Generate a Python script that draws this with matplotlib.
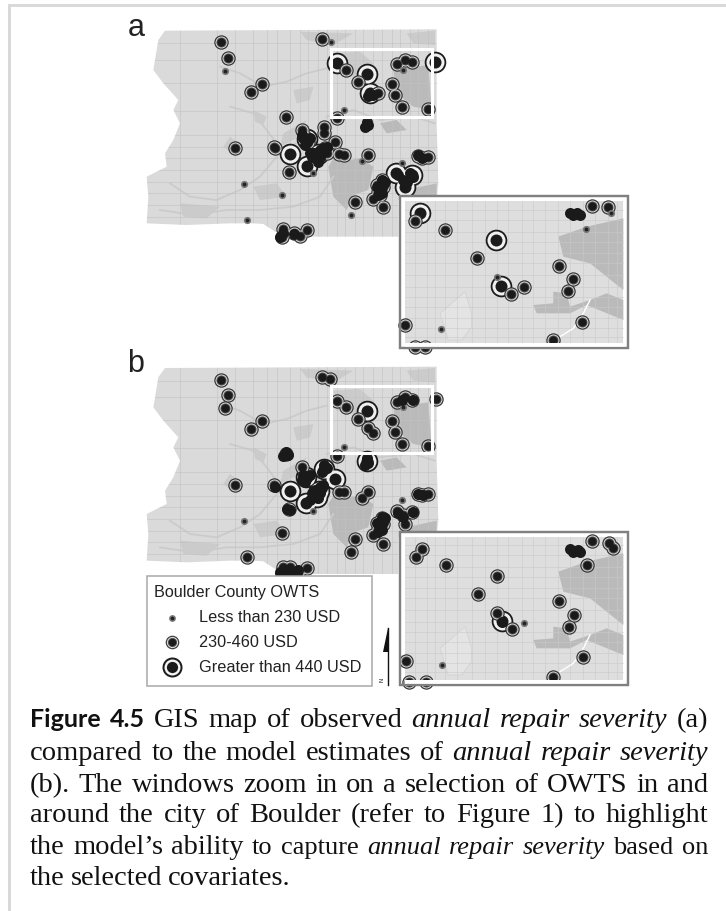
import matplotlib
matplotlib.use("Agg")
import matplotlib.pyplot as plt
from matplotlib.patches import Polygon, Rectangle

W, H = 726, 911
GREY_BG = "#dadada"
GREY_DARK = "#bababa"
GREY_SOFT = "#cbcbcb"
GREY_ROAD = "#c2c2c2"

### county base map, in crop coordinates of panel a
outline = [(135,62),(540,60),(950,58),(950,340),(955,520),(950,565),(835,570),(835,680),(580,680),(470,668),
           (430,642),(400,640),(330,640),(200,645),(80,640),(85,560),(80,500),(140,470),(135,430),(160,390),
           (180,340),(160,300),(175,270),(130,220),(100,180),(115,90)]
road_x = [180,290,345,400,440,470,510,540,565,595,620,650,675,705,730,760,785,815,840,870,895,925]
road_y = [100,150,218,302,375,410,445,480,515,550,585,620]
dark_patches = [
    [(625,470),(650,430),(690,450),(720,445),(760,470),(745,540),(700,555),(680,600),(640,560)],
    [(820,180),(925,165),(935,300),(880,290),(830,250)],
    [(780,340),(830,330),(860,360),(800,370)],
    [(860,540),(950,520),(950,560),(880,565)],
]
soft_patches = [
    [(640,130),(720,125),(760,160),(700,200),(650,190)],
    [(540,65),(700,70),(640,105),(560,90)],
    [(860,70),(945,62),(945,105),(880,100)],
    [(330,380),(350,395),(335,430),(310,410)],
    [(180,580),(300,590),(260,625),(190,620)],
    [(400,300),(440,320),(430,345),(405,335)],
    [(490,370),(560,330),(540,380),(480,410)],
    [(400,530),(470,520),(500,560),(420,570)],
    [(520,240),(580,230),(570,270),(530,280)],
]
stream_lines = [
    [(300,170),(360,190),(430,230),(500,215),(560,190),(620,175)],
    [(150,520),(210,560),(290,570),(360,540),(420,500),(470,440),(540,390)],
    [(120,600),(220,615),(320,600),(420,600),(520,590),(600,560),(640,500)],
    [(330,290),(400,310),(440,360),(470,400)],
    [(620,320),(700,300),(780,330),(880,320),(945,340)],
]

### sites of panel a: crop coordinates
a_small = [(315,182),(632,95),(848,180),(673,300),(725,452),(846,458),(372,521),(486,556),(694,616),(380,630),(580,490)]
a_mid = [(304,97),(323,144),(426,221),(394,246),(606,88),(497,321),(344,415),(463,412),(466,415),(545,360),(612,350),(612,368),
         (644,396),(656,432),(673,435),(745,435),(506,487),(705,575),(788,590),(760,566),(925,441),(895,438),(905,445),
         (678,180),(715,215),(815,222),(826,255),(845,291),(925,296),(875,155),(855,150),(832,162),(775,250),(650,325),
         (770,525),(785,510),(775,545),(790,530),(780,555),(488,657),(485,680),(522,670),(540,678),(560,660),
         (555,380),(565,395),(615,415),(620,430)]
a_large = [(650,158),(945,155),(740,192),(750,250),(511,432),(560,467),(595,432),(828,490),(875,495),(855,530),(562,388)]
a_blobs = [(575,440),(585,430),(600,420),(610,415),(590,445),(600,440),(595,455),(580,430),(620,410),(570,430),(605,430),
           (550,385),(560,395),(570,385),(545,375),(555,405),(740,335),(745,345),(735,350),(760,255),(745,258),
           (785,510),(790,525),(780,540),(775,555),(785,550),(770,530),(795,515),(835,495),(850,510),(870,490),(880,500),
           (860,515),(895,435),(905,445),(488,670),(480,680),(522,672)]
a_box = (632,118,935,322)

### sites of panel b
b_small = [(372,513),(846,451),(848,170),(673,292),(580,482)]
b_mid = [(304,90),(323,135),(314,173),(426,213),(394,238),(606,80),(630,86),(497,313),(344,406),(463,404),(545,352),
         (650,152),(678,172),(715,206),(815,214),(826,245),(845,283),(925,288),(947,147),(875,150),(855,140),(832,155),
         (760,248),(745,235),(650,318),(656,425),(673,427),(745,427),(727,443),(506,478),(485,548),(705,568),(693,606),
         (788,582),(760,556),(925,433),(895,431),(905,436),(830,483),(875,487),(855,522),(850,495),(770,518),(785,505),
         (775,537),(790,522),(380,621),(488,650),(510,650),(535,670),(560,653),(485,672),(500,670)]
b_large = [(740,184),(740,333),(511,423),(558,460),(598,422),(645,388),(612,357),(558,380),(590,440)]
b_blobs = [(575,430),(585,420),(600,410),(610,405),(590,435),(600,430),(595,445),(580,425),(570,450),(605,415),
           (550,375),(560,385),(570,375),(545,390),(555,395),(612,345),(605,365),(620,355),(740,325),(745,338),(735,345),
           (785,500),(790,515),(780,530),(775,545),(785,540),(770,520),(795,505),(835,490),(850,500),(880,485),(895,431),
           (910,435),(845,150),(880,150),(497,305),(505,315),(490,318),(500,478),(510,480),(490,660),
           (505,660),(520,665),(480,665),(535,660),(500,672),(465,412)]
b_box = (632,107,937,310)

### inset a, crop coordinates
ia_roads_x = [75,110,135,165,200,245,285,320,355,395,430,465,505,540,580,615,655,680]
ia_roads_y = [60,90,125,155,190,220,255,290,320,350,385,415,440]
ia_small = [(588,118),(153,418),(320,262),(663,68)]
ia_mid = [(75,93),(164,120),(261,204),(363,311),(401,290),(506,227),(550,267),(533,302),(577,397),(488,450),(605,47),
          (653,51),(46,405),(75,470),(105,470)]
ia_large = [(91,70),(318,151),(333,288)]
ia_blobs = [(555,72),(548,75),(562,70),(540,70),(570,75)]
ia_dark = [[(505,140),(590,110),(700,85),(700,300),(600,220),(520,200)],
           [(430,345),(490,340),(490,305),(530,310),(540,350),(600,330),(650,310),(700,330),(700,390),(590,345),(540,370),(440,370)]]
ia_lake = [(150,370),(225,305),(245,370),(245,410),(215,450),(175,450)]
ia_road_curve = [(510,440),(550,415),(580,370),(600,330)]
ia_frame = (30,18,715,475)
ia_fill = (45,32,700,460)

### inset b, crop coordinates of the legend zoom
ib_roads_x = [855,890,915,945,980,1025,1065,1100,1135,1175,1210,1245,1285,1320,1360,1395,1435,1460]
ib_roads_y = [75,105,140,170,205,235,270,305,335,365,400,430,455]
ib_small = [(1183,308),(936,435)]
ib_mid = [(875,87),(858,110),(948,136),(1102,169),(1044,221),(1102,278),(1145,328),(1288,243),(1332,285),(1316,320),
          (1360,411),(1270,470),(1387,63),(1437,68),(1448,85),(1370,135),(828,422),(838,485),(888,485)]
ib_large = [(1117,304)]
ib_blobs = [(1335,92),(1328,97),(1345,90),(1320,88),(1350,95),(1115,305)]
ib_dark = [[(1285,155),(1370,125),(1480,100),(1480,315),(1380,235),(1300,215)],
           [(1210,360),(1270,355),(1270,320),(1310,325),(1320,365),(1380,345),(1430,325),(1480,345),(1480,405),(1370,360),(1320,385),(1220,385)]]
ib_lake = [(930,385),(1005,320),(1025,385),(1025,425),(995,465),(955,465)]
ib_road_curve = [(1290,455),(1330,430),(1360,385),(1380,345)]
ib_frame = (810,35,1495,495)
ib_fill = (825,50,1480,480)

### legend
legend_title = "Boulder County OWTS"
legend_labels = ["Less than 230 USD", "230-460 USD", "Greater than 440 USD"]
legend_box = (52,168,725,497)
legend_marks = [(127,293),(127,367),(127,440)]
legend_text_y = [293,367,443]

### caption, one list of (text, style) per line
caption = [
    [("Figure 4.5", "bold"), ("GIS map of observed", "rm"), ("annual repair severity", "it"), ("(a)", "rm")],
    [("compared to the model estimates of", "rm"), ("annual repair severity", "it")],
    [("(b). The windows zoom in on a selection of OWTS in and", "rm")],
    [("around the city of Boulder (refer to Figure 1) to highlight", "rm")],
    [("the model\u2019s ability", "rm"), ("to capture", "small"), ("annual repair severity", "smallit"), ("based on", "small")],
    [("the selected covariates.", "rm")],
]
caption_y = [727, 760, 792, 822, 854, 885]
justified = [True, True, True, True, True, False]


def s_for(r):
    return (2 * r * 72 / 100) ** 2


def draw_sites(ax, small, mid, large, blobs, z=5):
    for pts, layers in [
        (large, [(10.8, "#1c1c1c"), (9.0, "#f0f0f0"), (6.0, "#1a1a1a")]),
        (mid, [(7.2, "#333333"), (6.0, "#d8d8d8"), (5.0, "#4c4c4c"), (4.0, "#1a1a1a")]),
        (small, [(3.6, "#777777"), (1.9, "#222222")]),
    ]:
        xs = [p[0] for p in pts]
        ys = [p[1] for p in pts]
        for r, c in layers:
            ax.scatter(xs, ys, s=s_for(r), c=c, linewidths=0, zorder=z, clip_on=False)
            z += 0.1
    ax.scatter([p[0] for p in blobs], [p[1] for p in blobs], s=s_for(5.5), c="#1a1a1a", linewidths=0, zorder=z, clip_on=False)


def draw_base(ax, dy):
    shape = [(x, y + dy) for x, y in outline]
    land = Polygon(shape, closed=True, fc=GREY_BG, ec="none", zorder=1)
    ax.add_patch(land)
    for patch in soft_patches:
        ax.add_patch(Polygon([(x, y + dy) for x, y in patch], fc=GREY_SOFT, ec="none", zorder=1.1))
    for patch in dark_patches:
        ax.add_patch(Polygon([(x, y + dy) for x, y in patch], fc=GREY_DARK, ec="none", zorder=1.2))
    for line in stream_lines:
        l, = ax.plot([p[0] for p in line], [p[1] + dy for p in line], color=GREY_SOFT, lw=1.3, zorder=1.3)
        l.set_clip_path(land)
    for x in road_x:
        l, = ax.plot([x, x], [58 + dy, 690 + dy], color=GREY_ROAD, lw=0.4, zorder=1.4)
        l.set_clip_path(land)
    for y in road_y:
        l, = ax.plot([70, 960], [y + dy, y + dy], color=GREY_ROAD, lw=0.4, zorder=1.4)
        l.set_clip_path(land)


def draw_inset(ax, frame, fill, rx, ry, dark, lake, curve):
    ax.add_patch(Rectangle((frame[0], frame[1]), frame[2]-frame[0], frame[3]-frame[1], fc="white", ec="#808080", lw=1.6, zorder=2))
    ax.add_patch(Rectangle((fill[0], fill[1]), fill[2]-fill[0], fill[3]-fill[1], fc="#dedede", ec="none", zorder=2.1))
    for patch in dark:
        ax.add_patch(Polygon(patch, fc=GREY_DARK, ec="none", zorder=2.2))
    ax.add_patch(Polygon(lake, fc="#e4e4e4", ec="#cccccc", lw=0.4, zorder=2.3))
    for x in rx:
        ax.plot([x, x], [fill[1], fill[3]], color="#cacaca", lw=0.4, zorder=2.4)
    for y in ry:
        ax.plot([fill[0], fill[2]], [y, y], color="#cacaca", lw=0.4, zorder=2.4)
    ax.plot([p[0] for p in curve], [p[1] for p in curve], color="white", lw=1.0, zorder=2.5)


def sub_axes(fig, x0, y0, w, h, xmax, ymax, z):
    ax = fig.add_axes([x0 / W, 1 - (y0 + h) / H, w / W, h / H], zorder=z)
    ax.set_xlim(0, xmax)
    ax.set_ylim(ymax, 0)
    ax.axis("off")
    ax.patch.set_alpha(0)
    return ax


fig = plt.figure(figsize=(W / 100, H / 100), dpi=100, facecolor="white")

page = fig.add_axes([0, 0, 1, 1], zorder=0)
page.set_xlim(0, W)
page.set_ylim(H, 0)
page.axis("off")
page.add_patch(Rectangle((8, 4), 3, H, fc="#d9d9d9", ec="none"))
page.add_patch(Rectangle((8, 4), W, 2.5, fc="#d9d9d9", ec="none"))

# panel a
ax_a = sub_axes(fig, 120, 10, 340, 240, 1020, 720, 1)
draw_base(ax_a, 0)
draw_sites(ax_a, a_small, a_mid, a_large, a_blobs)
ax_a.add_patch(Rectangle((a_box[0], a_box[1]), a_box[2]-a_box[0], a_box[3]-a_box[1], fc="none", ec="white", lw=2.2, zorder=7))
ax_a.text(48, 55, "a", fontsize=22, family="Liberation Sans", ha="center", va="center", color="#222222")

# panel b
ax_b = sub_axes(fig, 120, 350, 340, 240, 1020, 720, 1)
draw_base(ax_b, -8)
draw_sites(ax_b, b_small, b_mid, b_large, b_blobs)
ax_b.add_patch(Rectangle((b_box[0], b_box[1]), b_box[2]-b_box[0], b_box[3]-b_box[1], fc="none", ec="white", lw=2.2, zorder=7))
ax_b.text(48, 43, "b", fontsize=22, family="Liberation Sans", ha="center", va="center", color="#222222")

# inset a
ax_ia = sub_axes(fig, 390, 190, 250, 170, 750, 510, 3)
draw_inset(ax_ia, ia_frame, ia_fill, ia_roads_x, ia_roads_y, ia_dark, ia_lake, ia_road_curve)
draw_sites(ax_ia, ia_small, ia_mid, ia_large, ia_blobs)
ax_ia.add_patch(Rectangle((ia_fill[0], 460), 660, 15, fc="white", ec="none", zorder=8))
ax_ia.add_patch(Rectangle((ia_frame[0], ia_frame[1]), ia_frame[2]-ia_frame[0], ia_frame[3]-ia_frame[1], fc="none", ec="#808080", lw=1.6, zorder=9))

# inset b and legend share one crop
ax_ib = sub_axes(fig, 130, 520, 510, 180, 1530, 540, 3)
draw_inset(ax_ib, ib_frame, ib_fill, ib_roads_x, ib_roads_y, ib_dark, ib_lake, ib_road_curve)
draw_sites(ax_ib, ib_small, ib_mid, ib_large, ib_blobs)
ax_ib.add_patch(Rectangle((ib_fill[0], 480), 660, 15, fc="white", ec="none", zorder=8))
ax_ib.add_patch(Rectangle((ib_frame[0], ib_frame[1]), ib_frame[2]-ib_frame[0], ib_frame[3]-ib_frame[1], fc="none", ec="#808080", lw=1.6, zorder=9))

ax_ib.add_patch(Rectangle((legend_box[0], legend_box[1]), legend_box[2]-legend_box[0], legend_box[3]-legend_box[1], fc="white", ec="#a8a8a8", lw=1.1, zorder=10))
ax_ib.text(72, 217, legend_title, fontsize=11.7, family="Liberation Sans", va="center", color="#222222", zorder=11)
for (mx, my), label, ty, layers in zip(legend_marks, legend_labels, legend_text_y, [
        [(3.4, "#777777"), (1.8, "#222222")],
        [(6.8, "#3c3c3c"), (5.6, "#e0e0e0"), (4.6, "#555555"), (3.7, "#1a1a1a")],
        [(10, "#1c1c1c"), (8, "#f4f4f4"), (5.6, "#1a1a1a")]]):
    for i, (r, c) in enumerate(layers):
        ax_ib.scatter([mx], [my], s=s_for(r), c=c, linewidths=0, zorder=11 + i * 0.1)
    ax_ib.text(208, ty, label, fontsize=11.7, family="Liberation Sans", va="center", color="#222222", zorder=11)

# north arrow
ax_ib.plot([775, 775], [325, 495], color="#111111", lw=1.0, zorder=10)
ax_ib.add_patch(Polygon([(775, 325), (775, 395), (760, 395)], fc="#111111", ec="none", zorder=10))
ax_ib.text(757, 480, "N", fontsize=4, rotation=90, family="Liberation Sans", ha="center", va="center", zorder=10)

# caption
styles = {
    "rm": dict(family="Liberation Serif", fontsize=20.5),
    "it": dict(family="Liberation Serif", fontsize=20.5, style="italic"),
    "bold": dict(family="Lato", fontsize=18, weight="bold"),
    "small": dict(family="Liberation Serif", fontsize=19),
    "smallit": dict(family="Liberation Serif", fontsize=19, style="italic"),
}
x_left, x_right = 30, 708
renderer = fig.canvas.get_renderer()
for segs, y, just in zip(caption, caption_y, justified):
    words = []
    for text, style in segs:
        for w in text.split(" "):
            words.append((w, style))
    items = [page.text(0, y, w, va="baseline", ha="left", color="#111111", **styles[st]) for w, st in words]
    widths = [t.get_window_extent(renderer).width for t in items]
    if just:
        gap = (x_right - x_left - sum(widths)) / (len(items) - 1)
    else:
        gap = 6
    x = x_left
    for t, wd in zip(items, widths):
        t.set_x(x)
        x += wd + gap

fig.savefig("out.png", dpi=100)
